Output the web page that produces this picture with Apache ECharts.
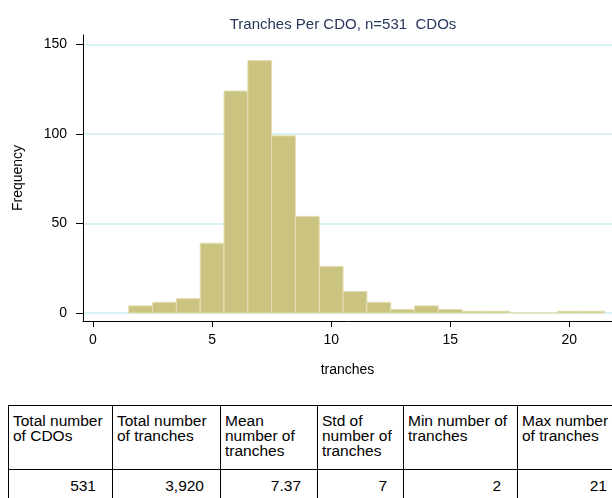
<!DOCTYPE html>
<html>
<head>
<meta charset="utf-8">
<script src="https://cdn.jsdelivr.net/npm/echarts@6/dist/echarts.min.js"></script>
<style>
  html, body { margin: 0; padding: 0; background: #fff; }
  #wrap { position: relative; width: 612px; height: 498px; overflow: hidden; }
  #chart { position: absolute; left: 0; top: 0; width: 612px; height: 400px; }
  #stats {
    position: absolute; left: 8px; top: 405px;
    border-collapse: collapse; table-layout: fixed;
    font-family: "Liberation Sans", Arial, sans-serif; font-size: 15.5px; line-height: 15px;
    color: #000;
  }
  #stats td { border: 1px solid #000; white-space: nowrap; overflow: hidden; }
  #stats tr.head td { vertical-align: top; text-align: left; padding: 7px 4px 3px 4px; height: 53px; }
  #stats tr.vals td { text-align: right; padding: 8px 16px 9px 4px; }
</style>
</head>
<body>
<div id="wrap">
  <div id="chart"></div>
  <table id="stats"></table>
</div>
<script>
// histogram bins (centered on integer tranche counts)
var binCenters = [2, 3, 4, 5, 6, 7, 8, 9, 10, 11, 12, 13, 14, 15, 16, 17, 18, 19, 20, 21];
var counts = [4, 6, 8, 39, 124, 141, 99, 54, 26, 12, 6, 2, 4, 2, 1, 1, 0, 0, 1, 1];
var xTicks = [0, 5, 10, 15, 20];
var yTicks = [0, 50, 100, 150];

// summary table
var tableHeaders = ["Total number<br>of CDOs", "Total number<br>of tranches", "Mean<br>number of<br>tranches",
  "Std of<br>number of<br>tranches", "Min number of<br>tranches", "Max number<br>of tranches"];
var tableValues = ["531", "3,920", "7.37", "7", "2", "21"];
var colWidths = [104, 108, 97, 86, 114, 106];

// build table
var tbl = document.getElementById("stats");
var cg = "<colgroup>" + colWidths.map(function (w) { return '<col style="width:' + w + 'px">'; }).join("") + "</colgroup>";
var h = '<tr class="head">' + tableHeaders.map(function (t) { return "<td>" + t + "</td>"; }).join("") + "</tr>";
var v = '<tr class="vals">' + tableValues.map(function (t) { return "<td>" + t + "</td>"; }).join("") + "</tr>";
tbl.innerHTML = cg + h + v;
tbl.style.width = colWidths.reduce(function (a, b) { return a + b; }, 0) + "px";

var binData = binCenters.map(function (c, i) { return [c - 0.5, c + 0.5, counts[i]]; });

var chart = echarts.init(document.getElementById("chart"));
var font = "Liberation Sans";
var option = {
  animation: false,
  title: {
    text: "Tranches Per CDO, n=531  CDOs",
    left: 338, top: 12, textAlign: "center",
    textStyle: { fontFamily: font, fontSize: 15, fontWeight: "normal", color: "#27375b" }
  },
  grid: { left: 83, right: 0, top: 35, bottom: 79 },
  xAxis: {
    type: "value", min: -0.42, max: 21.79,
    name: "tranches", nameLocation: "middle", nameGap: 42,
    nameTextStyle: { fontFamily: font, fontSize: 14, color: "#000" },
    axisLine: { show: true, onZero: false, lineStyle: { color: "#000", width: 1 } },
    axisTick: { show: true, length: 6, customValues: xTicks, lineStyle: { color: "#000" } },
    axisLabel: { customValues: xTicks, margin: 12, fontFamily: font, fontSize: 14, color: "#000" },
    splitLine: { show: false }
  },
  yAxis: {
    type: "value", min: -4.47, max: 155.3,
    name: "Frequency", nameLocation: "middle", nameGap: 58,
    nameTextStyle: { fontFamily: font, fontSize: 14, color: "#000" },
    axisLine: { show: true, onZero: false, lineStyle: { color: "#000", width: 1 } },
    axisTick: { show: true, length: 7, customValues: yTicks, lineStyle: { color: "#000" } },
    axisLabel: { customValues: yTicks, margin: 16, fontFamily: font, fontSize: 14, color: "#000" },
    splitLine: { show: true, lineStyle: { color: "#cdeff1", width: 1.5 } }
  },
  series: [{
    type: "custom",
    data: binData,
    encode: { x: [0, 1], y: 2 },
    renderItem: function (params, api) {
      var p0 = api.coord([api.value(0), api.value(2)]);
      var p1 = api.coord([api.value(1), 0]);
      return {
        type: "rect",
        shape: { x: p0[0], y: p0[1], width: p1[0] - p0[0], height: p1[1] - p0[1] },
        style: { fill: "#cbc380", stroke: "#e4e0b4", lineWidth: 1 }
      };
    }
  }]
};
chart.setOption(option);
</script>
</body>
</html>
